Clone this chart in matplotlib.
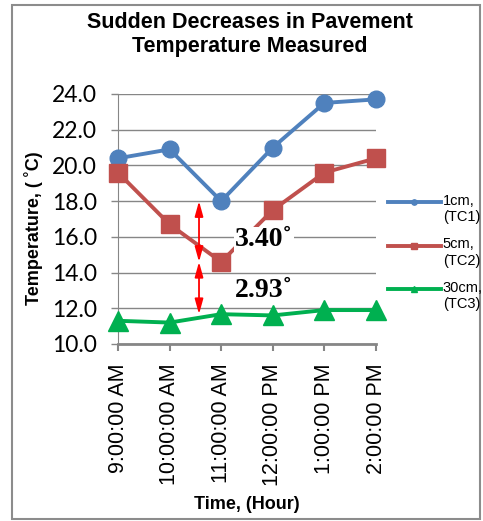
import numpy as np
import matplotlib
matplotlib.use('Agg')
import matplotlib.pyplot as plt
from matplotlib.patches import Rectangle
from matplotlib.legend_handler import HandlerLine2D

# hourly readings of pavement temperature at three depths
times = ['9:00:00 AM', '10:00:00 AM', '11:00:00 AM', '12:00:00 PM', '1:00:00 PM', '2:00:00 PM']
tc1 = [20.4, 20.9, 18.0, 21.0, 23.5, 23.7]   # 1cm
tc2 = [19.6, 16.7, 14.6, 17.5, 19.6, 20.4]   # 5cm
tc3 = [11.3, 11.2, 11.67, 11.6, 11.9, 11.9]  # 30cm
labels = ['1cm,\n(TC1)', '5cm,\n(TC2)', '30cm,\n(TC3)']
yticks = [10.0, 12.0, 14.0, 16.0, 18.0, 20.0, 22.0, 24.0]

# drop between the sensors at 11 AM
drop_x = 1.57
drop_top = tc1[2] - tc2[2]
drop_bottom = tc2[2] - tc3[2]


class FirstLineHandler(HandlerLine2D):
    # put the legend line next to the first line of a two-line label
    def create_artists(self, legend, orig_handle, xdescent, ydescent, width, height, fontsize, trans):
        return super().create_artists(legend, orig_handle, xdescent, ydescent - 1.0 * fontsize,
                                      width, height, fontsize, trans)


fig = plt.figure(figsize=(4.83, 5.21), dpi=100)
ax = fig.add_axes([118/483, 1-344/521, (376-118)/483, (344-94)/521])

x = np.arange(len(times))
grey = '#868686'
l1, = ax.plot(x, tc1, color='#4F81BD', lw=2.8, marker='o', ms=12, clip_on=False, zorder=3)
l2, = ax.plot(x, tc2, color='#C0504D', lw=2.8, marker='s', ms=13, clip_on=False, zorder=4)
l3, = ax.plot(x, tc3, color='#00B050', lw=2.8, marker='^', ms=15, clip_on=False, zorder=5)

ax.set_xlim(0, len(times) - 1)
ax.set_ylim(10, 24)
ax.set_yticks(yticks)
ax.set_yticklabels(['%.1f' % v for v in yticks], fontfamily='Lato', fontsize=16.5)
ax.set_xticks(x)
ax.set_xticklabels(times, rotation=90, fontfamily='Liberation Sans', fontsize=15.5)
ax.tick_params(axis='y', length=5, width=1, color=grey, pad=10)
ax.tick_params(axis='x', length=5, width=1.5, color=grey, pad=9)
ax.grid(axis='y', color=grey, lw=1)
ax.set_axisbelow(True)
for s in ['top', 'right']:
    ax.spines[s].set_visible(False)
ax.spines['left'].set_color(grey)
ax.spines['bottom'].set_color(grey)
ax.spines['bottom'].set_linewidth(2)

# double arrows for the temperature drops
arrow = dict(arrowstyle='<|-|>,head_length=0.9,head_width=0.25', color='#FF0000', lw=1.3,
             shrinkA=0, shrinkB=0)
ax.annotate('', xy=(drop_x, tc1[2]), xytext=(drop_x, tc2[2]), arrowprops=arrow, zorder=6)
ax.annotate('', xy=(drop_x, tc2[2]), xytext=(drop_x, tc3[2]), arrowprops=arrow, zorder=6)
ax.text(2.27, 15.83, '%.2f˚' % drop_top, fontfamily='Liberation Serif', fontweight='bold',
        fontsize=20, va='center', ha='left', zorder=7,
        bbox=dict(facecolor='white', edgecolor='none', pad=0.5))
ax.text(2.27, 13.0, '%.2f˚' % drop_bottom, fontfamily='Liberation Serif', fontweight='bold',
        fontsize=20, va='center', ha='left', zorder=7,
        bbox=dict(facecolor='white', edgecolor='none', pad=0.5))

fig.text(0.518, 0.934, 'Sudden Decreases in Pavement\nTemperature Measured', ha='center', va='center',
         fontfamily='Liberation Sans', fontweight='bold', fontsize=15.5, linespacing=1.2)
fig.text(0.511, 0.031, 'Time, (Hour)', ha='center', va='center',
         fontfamily='Liberation Sans', fontweight='bold', fontsize=13)
fig.text(0.070, 0.562, 'Temperature, ( ˚C)', ha='center', va='center', rotation=90,
         fontfamily='Liberation Sans', fontweight='bold', fontsize=13)

fig.legend([l1, l2, l3], labels, loc='upper left', bbox_to_anchor=(388/483, 1-194/521),
           frameon=False, borderpad=0, borderaxespad=0, handlelength=3.6, handletextpad=0.15,
           labelspacing=0.9, markerscale=0.32, prop=dict(family='Liberation Sans', size=10.5),
           handler_map={l1: FirstLineHandler(), l2: FirstLineHandler(), l3: FirstLineHandler()})

fig.add_artist(Rectangle((12/483, 1-519/521), (480-12)/483, (519-5)/521, transform=fig.transFigure,
                         fill=False, edgecolor='#8c8c8c', lw=1.5))

fig.savefig('out.png', dpi=100)
